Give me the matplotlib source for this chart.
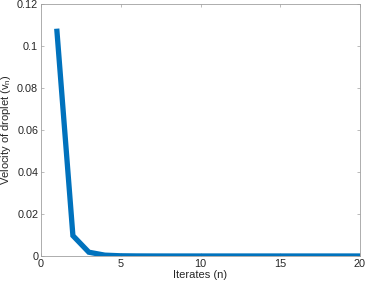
import matplotlib
matplotlib.use("Agg")
import matplotlib.pyplot as plt

n = list(range(1, 21))
v = [0.107, 0.0097, 0.0018, 0.0004, 0.0001, 0.00003, 0.00001, 0, 0, 0,
     0, 0, 0, 0, 0, 0, 0, 0, 0, 0]

plt.rcParams['font.family'] = ['Liberation Sans', 'DejaVu Sans']
plt.rcParams['mathtext.fontset'] = 'custom'
plt.rcParams['mathtext.rm'] = 'Liberation Sans'
plt.rcParams['mathtext.it'] = 'Liberation Sans:italic'
fig = plt.figure(figsize=(3.65, 2.85), dpi=100)
ax = fig.add_axes([41/365, 29/285, 319/365, 252/285])
ax.plot(n, v, color='#0072BD', lw=3.8, solid_joinstyle='miter')
ax.set_xlim(0, 20)
ax.set_ylim(0, 0.12)
ax.set_xticks([0, 5, 10, 15, 20])
ax.set_yticks([0, 0.02, 0.04, 0.06, 0.08, 0.1, 0.12])
ax.set_yticklabels(['0', '0.02', '0.04', '0.06', '0.08', '0.1', '0.12'])
for s in ax.spines.values():
    s.set_color('#a0a0a0')
    s.set_linewidth(0.6)
ax.tick_params(direction='in', length=2.5, width=0.5, color='#a0a0a0',
               labelsize=7.8, labelcolor='#262626', top=True, right=True, pad=2)
ax.set_xlabel('Iterates (n)', fontsize=8, color='#262626', labelpad=1)
ax.set_ylabel(r'Velocity of droplet (v$_\mathrm{n}$)', fontsize=8, color='#262626', labelpad=3)
fig.savefig('out.png', dpi=100)
